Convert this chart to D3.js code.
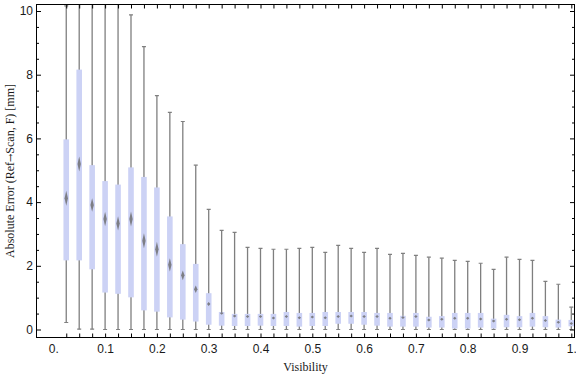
<!DOCTYPE html>
<html>
<head>
<meta charset="utf-8">
<script src="https://cdn.jsdelivr.net/npm/d3@7"></script>
<style>
  body { margin: 0; background: #fff; }
  svg { display: block; font-family: "Liberation Serif", "Times New Roman", serif; }
  .tick text { font-size: 12px; fill: #1a1a1a; }
</style>
</head>
<body>
<svg id="vis" width="576" height="377"></svg>
<script>
// box positions (visibility)
const visibility = [0.025, 0.05, 0.075, 0.1, 0.125, 0.15, 0.175, 0.2, 0.225, 0.25,
  0.275, 0.3, 0.325, 0.35, 0.375, 0.4, 0.425, 0.45, 0.475, 0.5,
  0.525, 0.55, 0.575, 0.6, 0.625, 0.65, 0.675, 0.7, 0.725, 0.75,
  0.775, 0.8, 0.825, 0.85, 0.875, 0.9, 0.925, 0.95, 0.975, 1.0];

// whisker ends
const whiskerHigh = [10.16, 12.5, 12.0, 11.5, 11.0, 9.88, 8.88, 7.34, 6.82, 6.53,
  5.16, 3.77, 3.11, 3.05, 2.58, 2.55, 2.52, 2.52, 2.55, 2.58,
  2.42, 2.64, 2.55, 2.42, 2.55, 2.36, 2.39, 2.33, 2.27, 2.24,
  2.17, 2.14, 2.08, 1.89, 2.27, 2.20, 2.17, 1.51, 1.42, 0.70];
const whiskerLow = [0.22, 0.01, 0.01, 0, 0, 0, 0, 0, 0, 0,
  0, 0, 0, 0, 0, 0, 0, 0, 0, 0,
  0, 0, 0, 0, 0, 0, 0, 0, 0, 0,
  0, 0, 0, 0, 0, 0, 0, 0, 0, 0];

// quartiles + median
const q3 = [5.97, 8.16, 5.16, 4.66, 4.55, 5.09, 4.79, 4.46, 3.55, 2.68,
  2.06, 1.14, 0.55, 0.49, 0.49, 0.49, 0.49, 0.55, 0.52, 0.52,
  0.55, 0.55, 0.55, 0.55, 0.52, 0.52, 0.43, 0.52, 0.40, 0.42,
  0.52, 0.52, 0.52, 0.34, 0.46, 0.42, 0.52, 0.42, 0.31, 0.30];
const q1 = [2.17, 2.17, 1.89, 1.16, 1.12, 1.01, 0.60, 0.56, 0.38, 0.31,
  0.25, 0.15, 0.12, 0.11, 0.11, 0.12, 0.11, 0.11, 0.09, 0.11,
  0.11, 0.18, 0.18, 0.15, 0.12, 0.09, 0.09, 0.09, 0.06, 0.06,
  0.03, 0.03, 0.06, 0.03, 0.07, 0.07, 0.09, 0.07, 0.06, 0.10];
const median = [4.12, 5.20, 3.91, 3.47, 3.33, 3.47, 2.79, 2.52, 2.03, 1.70,
  1.26, 0.80, 0.51, 0.42, 0.41, 0.41, 0.36, 0.41, 0.37, 0.39,
  0.37, 0.41, 0.42, 0.41, 0.41, 0.35, 0.38, 0.41, 0.30, 0.32,
  0.35, 0.35, 0.33, 0.27, 0.32, 0.31, 0.35, 0.28, 0.23, 0.19];

// ticks / labels
const xTickValues = visibility.slice();
const xLabelValues = [0, 0.1, 0.2, 0.3, 0.4, 0.5, 0.6, 0.7, 0.8, 0.9, 1.0];
const xLabelText = ["0.", "0.1", "0.2", "0.3", "0.4", "0.5", "0.6", "0.7", "0.8", "0.9", "1."];
const yMajor = [0, 2, 4, 6, 8, 10];
const yMinor = d3.range(0, 10.01, 0.5).filter(v => v % 2 !== 0);

const xLabel = "Visibility";
const yLabelParts = ["Absolute Error (Ref", "\u2192", "Scan, F) [mm]"];

// frame edges (px)
const FRAME = {top: 4.5, right: 574.5, bottom: 337.5, left: 36.5};

const svg = d3.select("#vis");

const x = d3.scaleLinear().domain([0, 1]).range([53.3, 571.3]);
const y = d3.scaleLinear().domain([0, 10]).range([329.5, 11]);

const data = visibility.map((v, i) => ({
  v: v, lo: whiskerLow[i], hi: whiskerHigh[i], q1: q1[i], q3: q3[i], med: median[i]
}));

const defs = svg.append("defs");
defs.append("clipPath").attr("id", "plotClip")
  .append("rect")
  .attr("x", FRAME.left).attr("y", FRAME.top)
  .attr("width", FRAME.right - FRAME.left).attr("height", FRAME.bottom - FRAME.top);
defs.append("filter").attr("id", "soft")
  .attr("x", "-100%").attr("y", "-50%").attr("width", "300%").attr("height", "200%")
  .append("feGaussianBlur").attr("stdDeviation", 0.75);

const plot = svg.append("g").attr("clip-path", "url(#plotClip)");

const boxW = 5.6;
const capW = 2;

const groups = plot.selectAll("g.box")
  .data(data)
  .enter()
  .append("g")
  .attr("class", "box");

// whisker line
groups.append("line")
  .attr("x1", d => x(d.v)).attr("x2", d => x(d.v))
  .attr("y1", d => y(d.lo)).attr("y2", d => y(d.hi))
  .style("stroke", "#7f7f7f").style("stroke-width", 1.3);
// caps
groups.append("line")
  .attr("x1", d => x(d.v) - capW).attr("x2", d => x(d.v) + capW)
  .attr("y1", d => y(d.hi)).attr("y2", d => y(d.hi))
  .style("stroke", "#7f7f7f").style("stroke-width", 1.2);
groups.append("line")
  .attr("x1", d => x(d.v) - capW).attr("x2", d => x(d.v) + capW)
  .attr("y1", d => y(d.lo)).attr("y2", d => y(d.lo))
  .style("stroke", "#7f7f7f").style("stroke-width", 1.2);

// box
groups.append("rect")
  .attr("x", d => x(d.v) - boxW / 2)
  .attr("width", boxW)
  .attr("y", d => y(d.q3))
  .attr("height", d => y(d.q1) - y(d.q3))
  .style("fill", "#ccd2f5");

// median marker: soft diamond, squashed by box size
groups.append("path")
  .attr("d", function(d){
    const cx = x(d.v), cy = y(d.med);
    const h = Math.max(1.5, Math.min(7.5, (y(d.q1) - y(d.q3)) * 0.065));
    const w = 1.7;
    return `M${cx},${cy - h}L${cx + w},${cy}L${cx},${cy + h}L${cx - w},${cy}Z`;
  })
  .style("fill", "#6a6a6a")
  .style("opacity", 0.8)
  .attr("filter", "url(#soft)");

// frame
svg.append("rect")
  .attr("x", FRAME.left).attr("y", FRAME.top)
  .attr("width", FRAME.right - FRAME.left).attr("height", FRAME.bottom - FRAME.top)
  .style("fill", "none").style("stroke", "#000").style("stroke-width", 1);

// bottom ticks (inward) + labels
const bottomTicks = svg.append("g")
  .attr("transform", `translate(0, ${FRAME.bottom})`)
  .call(d3.axisBottom(x).tickValues(xTickValues).tickSize(-4).tickFormat(""));
const bottomLabels = svg.append("g")
  .attr("transform", `translate(0, ${FRAME.bottom})`)
  .call(d3.axisBottom(x).tickValues(xLabelValues).tickSize(0).tickPadding(7)
    .tickFormat((d, i) => xLabelText[i]));
bottomLabels.selectAll(".tick line").remove();

// top ticks
const topTicks = svg.append("g")
  .attr("transform", `translate(0, ${FRAME.top})`)
  .call(d3.axisTop(x).tickValues(xTickValues).tickSize(-4).tickFormat(""));

// left ticks
const leftMajor = svg.append("g")
  .attr("transform", `translate(${FRAME.left}, 0)`)
  .call(d3.axisLeft(y).tickValues(yMajor).tickSize(-4.5).tickPadding(3.5).tickFormat(d3.format("d")));
const leftMinor = svg.append("g")
  .attr("transform", `translate(${FRAME.left}, 0)`)
  .call(d3.axisLeft(y).tickValues(yMinor).tickSize(-2.5).tickFormat(""));

// right ticks
const rightMajor = svg.append("g")
  .attr("transform", `translate(${FRAME.right}, 0)`)
  .call(d3.axisRight(y).tickValues(yMajor).tickSize(-4.5).tickFormat(""));
const rightMinor = svg.append("g")
  .attr("transform", `translate(${FRAME.right}, 0)`)
  .call(d3.axisRight(y).tickValues(yMinor).tickSize(-2.5).tickFormat(""));

[bottomTicks, bottomLabels, topTicks, leftMajor, leftMinor, rightMajor, rightMinor].forEach(function(g){
  g.select(".domain").remove();
  g.selectAll(".tick line").style("stroke", "#000");
});

// axis labels
svg.append("text")
  .attr("x", (FRAME.left + FRAME.right) / 2)
  .attr("y", 371)
  .style("text-anchor", "middle")
  .style("font-size", "12px")
  .style("fill", "#1a1a1a")
  .text(xLabel);
const yText = svg.append("text")
  .attr("transform", `translate(14, ${(FRAME.top + FRAME.bottom) / 2}) rotate(-90)`)
  .style("text-anchor", "middle")
  .style("font-size", "12px")
  .style("fill", "#1a1a1a");
yText.append("tspan").text(yLabelParts[0]);
yText.append("tspan").style("font-family", "'DejaVu Serif', serif").style("font-size", "10px").text(yLabelParts[1]);
yText.append("tspan").text(yLabelParts[2]);
</script>
</body>
</html>
